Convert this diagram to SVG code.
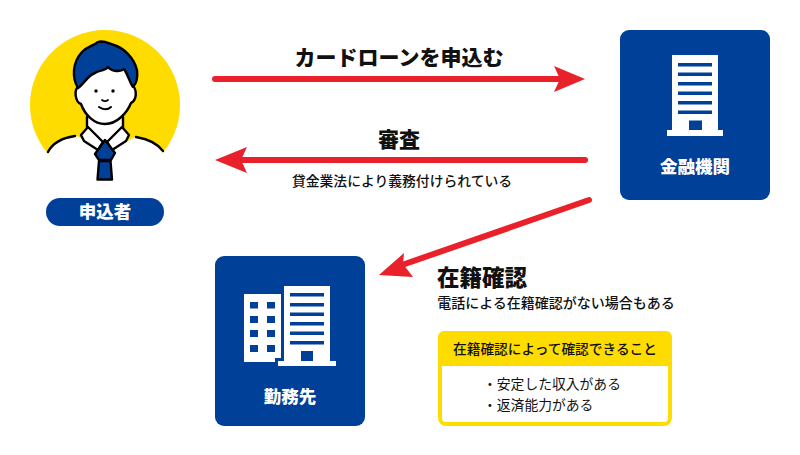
<svg xmlns="http://www.w3.org/2000/svg" width="800" height="455" viewBox="0 0 800 455">
<style>
text{font-family:"Noto Sans CJK JP","Noto Sans",sans-serif;text-anchor:middle;fill:#111}
.w{fill:#fff;font-weight:900;font-size:17.5px}
.h{font-weight:900;font-size:21px}
.s{font-weight:500;font-size:13.8px}
.card{fill:#004098}
.bl{fill:#004098}
.wh{fill:#fff}
.ink{stroke:#000;stroke-width:2.4;stroke-linecap:round;stroke-linejoin:round}
.ar{stroke:#e8212b;stroke-width:6;stroke-linecap:round;fill:none}
.hd{fill:#e8212b}
</style>
<rect width="800" height="455" fill="#fff"/>
<g id="applicant">
<circle cx="105" cy="105" r="75" fill="#ffdc00"/>
<path class="wh" d="M48 153C53 143 62 138 77 136L100 150H112L135 137C148 139 157 143 163 152L140 185H70Z"/>
<path fill="none" class="ink" d="M48 152C53 142 62 138 75 136M136 137C148 139 157 143 163 151"/>
<path class="wh" d="M87 116V128L83 134L98 152H112L127 134L123 128V116Z"/>
<path fill="none" class="ink" d="M87 117V127M123 117V128"/>
<path class="wh ink" d="M88 127L81 135L84 141L98 150L103 142ZM122 127L129 135L126 141L112 150L107 142Z"/>
<path class="bl ink" d="M105 140L95 154L99 160H111L115 153Z"/>
<path class="bl ink" d="M99 161L97.500 179.500H112L110.500 161Z"/>
<path class="wh ink" d="M78 87C74 90 75 102 81 104C85 115 94 124 105 124C117 124 127 113 131 103C137 100 137 90 133 86L128 66H84Z"/>
<path class="bl ink" d="M78 88C72 78 72 63 82 52C88 46 93 46 98 42C103 40 108 43 114 45C124 48 134 58 137 70C138 78 136 84 133 87C130 83 128 75 124 69C121 72 112 72 108 67C105 71 99 70 95 73C88 75 84 84 78 88Z"/>
<circle cx="96" cy="91" r="1.7" fill="#000"/><circle cx="113" cy="91" r="1.7" fill="#000"/>
<path fill="none" class="ink" style="stroke-width:1.8" d="M102 100C104 101.500 106 101.500 108 100"/>
<path fill="none" class="ink" style="stroke-width:2" d="M99 107C103 110 108 110 111 107"/>
<rect x="46" y="198" width="118" height="28" rx="14" class="card"/>
<text x="105" y="218" class="w">申込者</text>
</g>
<g id="bank">
<rect x="620" y="30" width="150" height="170" rx="9" class="card"/>
<path class="wh" d="M672 55H718V130H723V136H667V130H672Z"/>
<path class="bl" d="M678 63H712V66.500H678ZM678 72.500H712V76H678ZM678 82H712V85.500H678ZM678 91.500H712V95H678ZM678 101H712V104.500H678ZM678 110.500H712V114H678ZM689 120.500H702V130H689Z"/>
<text x="695" y="173" class="w">金融機関</text>
</g>
<g id="workplace">
<rect x="215" y="256" width="150" height="170" rx="9" class="card"/>
<path class="wh" d="M244 294H281V362H244Z"/>
<path class="bl" d="M281 290H284V366H275V358H281Z"/>
<path class="wh" d="M284 286H330V361H336V366H278V361H284Z"/>
<path class="bl" d="M290 293H324V296.500H290ZM290 303H324V306.500H290ZM290 312.500H324V316H290ZM290 322H324V325.500H290ZM290 331.500H324V335H290ZM290 341H324V344.500H290ZM301 351H313V361H301ZM250 302H258V308.500H250ZM267 302H275V308.500H267ZM250 316H258V323H250ZM267 316H275V323H267ZM250 330H258V337H250ZM267 330H275V337H267ZM250 345H258V352H250ZM267 345H275V352H267Z"/>
<text x="290" y="403" class="w">勤務先</text>
</g>
<g id="connectors">
<path class="ar" d="M215 79H565"/><path class="hd" d="M585 79L554 66L560 79L554 92Z"/>
<path class="ar" d="M585 160H240"/><path class="hd" d="M215 160L247 147L241 160L247 173Z"/>
<path class="ar" d="M589 200L402 265"/><path class="hd" d="M379 275L404 253L403 264L413 277Z"/>
</g>
<g id="labels">
<text x="399" y="65" class="h">カードローンを申込む</text>
<text x="399" y="147" class="h">審査</text>
<text x="402" y="186" class="s">貸金業法により義務付けられている</text>
<text x="482" y="286" class="h" style="font-size:22.500px">在籍確認</text>
<text x="556" y="308" class="s" style="font-size:14px">電話による在籍確認がない場合もある</text>
</g>
<g id="note">
<rect x="440" y="333" width="230" height="91" rx="6" fill="#fff" stroke="#ffdc00" stroke-width="4"/>
<path fill="#ffdc00" d="M444 331H666A6 6 0 0 1 672 337V366H438V337A6 6 0 0 1 444 331Z"/>
<text x="555" y="354" style="font-weight:500;font-size:13.700px">在籍確認によって確認できること</text>
<text x="483" y="389" style="font-weight:400;font-size:13.800px;text-anchor:start">・安定した収入がある</text>
<text x="483" y="410" style="font-weight:400;font-size:13.800px;text-anchor:start">・返済能力がある</text>
</g>
</svg>
